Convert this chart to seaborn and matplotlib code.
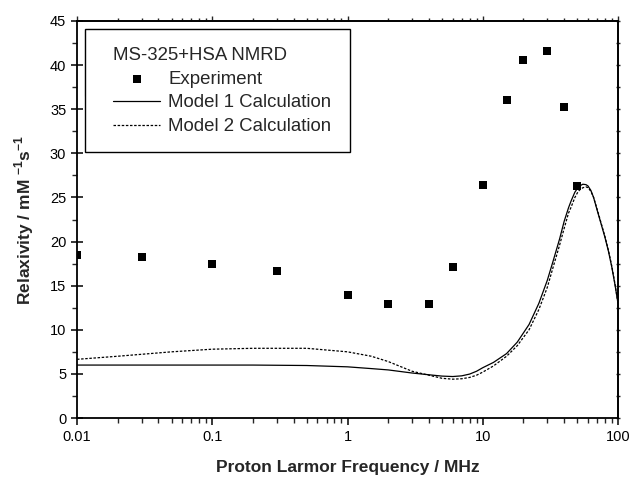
import matplotlib
matplotlib.use("Agg")
import matplotlib.pyplot as plt
import matplotlib.ticker as mticker
from matplotlib.patches import Rectangle
import numpy as np
import pandas as pd
import seaborn as sns

# ---- data ----
exp_freq = [0.01, 0.03, 0.1, 0.3, 1, 2, 4, 6, 10, 15, 20, 30, 40, 50]
exp_relax = [18.5, 18.3, 17.4, 16.7, 13.9, 12.9, 12.9, 17.1, 26.4, 36.1, 40.6, 41.6, 35.2, 26.3]

curve_freq = [0.01, 0.02, 0.05, 0.1, 0.2, 0.5, 1, 1.5, 2, 3, 4, 5, 6, 7, 8, 9, 10, 12, 15,
              18, 22, 26, 30, 33, 37, 40, 43, 45, 48, 50, 52, 55, 58, 60, 63, 66, 70, 75,
              80, 85, 90, 95, 100]
model1 = [6.0, 6.0, 6.0, 6.0, 6.0, 5.95, 5.8, 5.6, 5.45, 5.1, 4.9, 4.75, 4.7, 4.78, 4.98,
          5.3, 5.7, 6.3, 7.3, 8.6, 10.6, 13.0, 15.6, 17.7, 20.3, 22.3, 23.8, 24.6, 25.6,
          26.0, 26.3, 26.5, 26.45, 26.3, 25.8, 25.0, 23.6, 22.0, 20.5, 18.9, 17.1, 15.1, 13.0]
model2 = [6.65, 7.0, 7.5, 7.8, 7.9, 7.9, 7.5, 7.0, 6.4, 5.3, 4.85, 4.5, 4.4, 4.45, 4.6,
          4.85, 5.2, 5.9, 7.0, 8.2, 10.0, 12.3, 14.8, 17.0, 19.6, 21.5, 23.2, 23.9, 25.0,
          25.5, 25.85, 26.1, 26.2, 26.1, 25.7, 25.0, 23.7, 22.1, 20.6, 19.0, 17.2, 15.2, 13.0]

x_ticks = [0.01, 0.1, 1, 10, 100]
x_ticklabels = ["0.01", "0.1", "1", "10", "100"]
y_ticks = list(range(0, 50, 5))

legend_title = "MS-325+HSA NMRD"
labels = ["Experiment", "Model 1 Calculation", "Model 2 Calculation"]

# ---- style ----
sns.set_theme(style="ticks")
plt.rcParams["font.family"] = ["Liberation Sans", "DejaVu Sans"]
plt.rcParams["mathtext.fontset"] = "custom"
plt.rcParams["mathtext.rm"] = "Liberation Sans"
plt.rcParams["mathtext.bf"] = "Liberation Sans:bold"

W, H = 632, 478
fig = plt.figure(figsize=(W / 100, H / 100), dpi=100)
ax = fig.add_axes([77 / W, 1 - 418 / H, (618 - 77) / W, (418 - 21) / H])

exp_df = pd.DataFrame({"f": exp_freq, "r": exp_relax})
cur_df = pd.DataFrame({"f": curve_freq, "m1": model1, "m2": model2})

sns.lineplot(data=cur_df, x="f", y="m1", ax=ax, color="black", linewidth=0.9,
             estimator=None, label=labels[1])
sns.lineplot(data=cur_df, x="f", y="m2", ax=ax, color="black", linewidth=0.9,
             estimator=None, label=labels[2])
ax.lines[-1].set_dashes([2.0, 1.3])
sns.scatterplot(data=exp_df, x="f", y="r", ax=ax, marker="s", s=40, color="black",
                edgecolor="black", linewidth=0, label=labels[0], zorder=5)

ax.set_xscale("log")
ax.set_xlim(0.01, 100)
ax.set_ylim(0, 45)
ax.set_xticks(x_ticks)
ax.set_xticklabels(x_ticklabels)
ax.xaxis.set_minor_locator(mticker.LogLocator(base=10, subs=np.arange(2, 10)))
ax.xaxis.set_minor_formatter(mticker.NullFormatter())
ax.set_yticks(y_ticks)
ax.yaxis.set_minor_locator(mticker.MultipleLocator(2.5))

for sp in ax.spines.values():
    sp.set_visible(True)
    sp.set_linewidth(1.3)
    sp.set_color("black")

ax.tick_params(axis="both", which="major", labelsize=10.5, colors="black", width=1.1)
ax.tick_params(axis="y", which="major", direction="inout", length=8.5, left=True, right=False)
ax.tick_params(axis="y", which="minor", direction="out", length=3.5, width=1.0, left=True, right=False)
ax.tick_params(axis="x", which="major", direction="out", length=5, bottom=True, top=False)
ax.tick_params(axis="x", which="minor", direction="out", length=3.5, width=1.0, bottom=True, top=False)

# mirrored ticks on top and right, smaller
secx = ax.secondary_xaxis("top")
secx.set_xticks(x_ticks)
secx.xaxis.set_minor_locator(mticker.LogLocator(base=10, subs=np.arange(2, 10)))
secx.tick_params(which="both", direction="out", length=2.5, width=1.0, labeltop=False)
secx.tick_params(which="major", length=3.5)
secx.spines["top"].set_linewidth(1.3)
secy = ax.secondary_yaxis("right")
secy.set_yticks(y_ticks)
secy.yaxis.set_minor_locator(mticker.MultipleLocator(2.5))
secy.tick_params(which="both", direction="inout", length=3.5, width=1.0, labelright=False)
secy.spines["right"].set_linewidth(1.3)

ax.set_xlabel("Proton Larmor Frequency / MHz", fontsize=12.5, fontweight="bold", labelpad=12)
ax.set_ylabel(r"Relaxivity / mM $^{\mathbf{-1}}$s$^{\mathbf{-1}}$", fontsize=12.5,
              fontweight="bold", labelpad=10)

# legend frame drawn as a separate box
fig.patches.append(Rectangle((85 / W, 1 - 152 / H), (350 - 85) / W, (152 - 29) / H,
                             transform=fig.transFigure, fill=True, facecolor="white",
                             edgecolor="black", linewidth=1.0, zorder=3))

handles, lbls = ax.get_legend_handles_labels()
order = [lbls.index(l) for l in labels]
leg = fig.legend([handles[i] for i in order], [lbls[i] for i in order],
                 title=legend_title, loc="upper left", bbox_to_anchor=(113 / W, 1 - 47 / H),
                 fontsize=13.4, title_fontsize=13.4, frameon=False,
                 handlelength=2.55, handletextpad=0.42,
                 labelspacing=0.36, borderpad=0, alignment="left", borderaxespad=0)
leg.set_zorder(4)

fig.savefig("out.png", dpi=100)
